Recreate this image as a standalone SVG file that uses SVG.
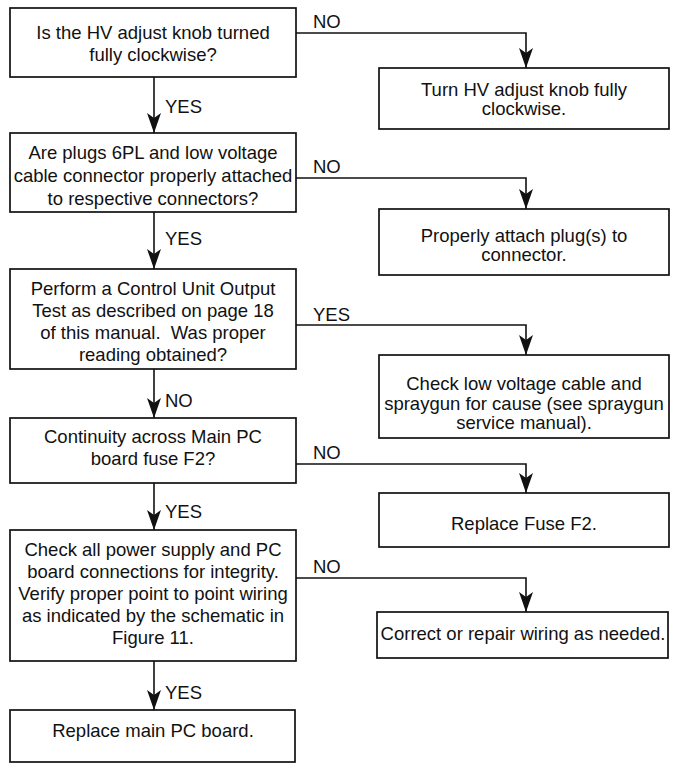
<svg xmlns="http://www.w3.org/2000/svg" width="676" height="765" viewBox="0 0 676 765">
<defs>
<marker id="ah" markerUnits="userSpaceOnUse" viewBox="0 0 20 14" markerWidth="20" markerHeight="14" refX="20" refY="7" orient="auto">
<path d="M0,0 L20,7 L0,14 L5,7 Z" fill="#111"/>
</marker>
<style>
rect.b{fill:#fff;stroke:#111;stroke-width:1.7}
text{font-family:"Liberation Sans",Arial,sans-serif;font-size:18.5px;fill:#111}
text.c{text-anchor:middle}
.conn path{fill:none;stroke:#111;stroke-width:1.6;marker-end:url(#ah)}
</style>
</defs>
<rect width="676" height="765" fill="#fff"/>
<g class="conn" id="connectors">
<path d="M154,77 V133"/>
<path d="M296,33 H526 V68"/>
<path d="M154,212 V269"/>
<path d="M296,178 H526 V209"/>
<path d="M154,369 V418"/>
<path d="M296,325 H526 V355"/>
<path d="M154,483 V530"/>
<path d="M296,464 H526 V493"/>
<path d="M154,661 V710"/>
<path d="M296,578 H526 V612"/>
<text x="165" y="113">YES</text>
<text x="313" y="28">NO</text>
<text x="165" y="245">YES</text>
<text x="313" y="173">NO</text>
<text x="165" y="407">NO</text>
<text x="313" y="321">YES</text>
<text x="165" y="518">YES</text>
<text x="313" y="459">NO</text>
<text x="165" y="699">YES</text>
<text x="313" y="573">NO</text>
</g>
<g id="q1"><rect class="b" x="10" y="8" width="286" height="69"/>
<text class="c" x="153" y="39">Is the HV adjust knob turned</text>
<text class="c" x="153" y="61">fully clockwise?</text></g>
<g id="q2"><rect class="b" x="10" y="133" width="286" height="79"/>
<text class="c" x="153" y="159">Are plugs 6PL and low voltage</text>
<text class="c" x="153" y="182">cable connector properly attached</text>
<text class="c" x="153" y="205">to respective connectors?</text></g>
<g id="q3"><rect class="b" x="10" y="269" width="286" height="100"/>
<text class="c" x="153" y="295">Perform a Control Unit Output</text>
<text class="c" x="153" y="317">Test as described on page 18</text>
<text class="c" x="153" y="339" xml:space="preserve">of this manual.  Was proper</text>
<text class="c" x="153" y="361">reading obtained?</text></g>
<g id="q4"><rect class="b" x="10" y="418" width="286" height="65"/>
<text class="c" x="153" y="443">Continuity across Main PC</text>
<text class="c" x="153" y="465">board fuse F2?</text></g>
<g id="q5"><rect class="b" x="10" y="530" width="286" height="131"/>
<text class="c" x="153" y="556">Check all power supply and PC</text>
<text class="c" x="153" y="578">board connections for integrity.</text>
<text class="c" x="153" y="600">Verify proper point to point wiring</text>
<text class="c" x="153" y="622">as indicated by the schematic in</text>
<text class="c" x="153" y="644">Figure 11.</text></g>
<g id="a6"><rect class="b" x="10" y="710" width="285" height="52"/>
<text class="c" x="153" y="737">Replace main PC board.</text></g>
<g id="r1"><rect class="b" x="379" y="68" width="290" height="61"/>
<text class="c" x="524" y="96">Turn HV adjust knob fully</text>
<text class="c" x="524" y="115">clockwise.</text></g>
<g id="r2"><rect class="b" x="379" y="209" width="290" height="66"/>
<text class="c" x="524" y="242">Properly attach plug(s) to</text>
<text class="c" x="524" y="261">connector.</text></g>
<g id="r3"><rect class="b" x="379" y="355" width="290" height="83"/>
<text class="c" x="524" y="390">Check low voltage cable and</text>
<text class="c" x="524" y="410">spraygun for cause (see spraygun</text>
<text class="c" x="524" y="429">service manual).</text></g>
<g id="r4"><rect class="b" x="379" y="493" width="290" height="54"/>
<text class="c" x="524" y="530">Replace Fuse F2.</text></g>
<g id="r5"><rect class="b" x="377" y="612" width="291" height="46"/>
<text class="c" x="523" y="640">Correct or repair wiring as needed.</text></g>
</svg>
